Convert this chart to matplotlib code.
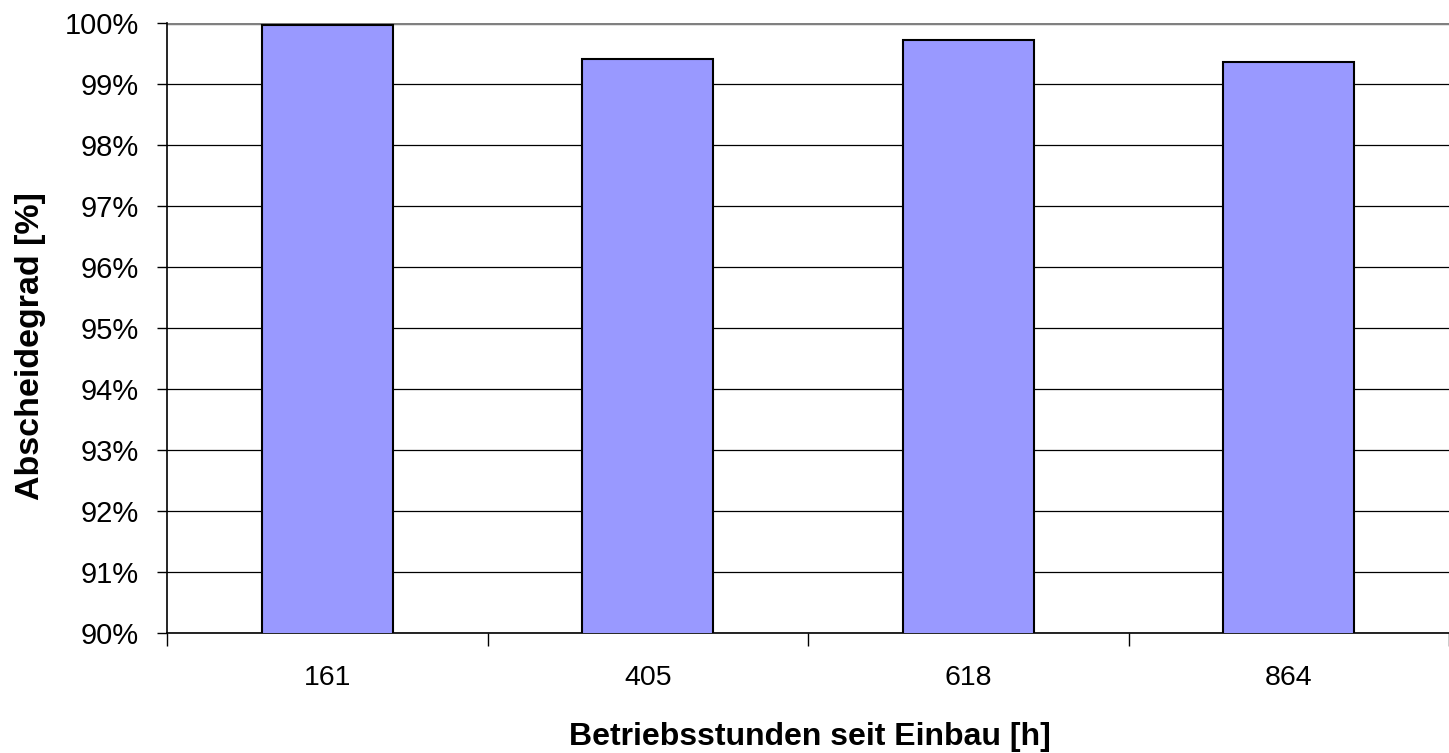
import numpy as np
import matplotlib.pyplot as plt
from matplotlib.ticker import FuncFormatter

plt.rcParams["font.family"] = ["Liberation Sans", "DejaVu Sans"]

stunden = ["161", "405", "618", "864"]
abscheidegrad = [99.97, 99.41, 99.72, 99.36]


def main():
    fig = plt.figure(figsize=(14.49, 7.53), dpi=100)
    ax = fig.add_axes([167 / 1449, 1 - 633 / 753, 1 - 167 / 1449, (633 - 23) / 753])

    x = np.arange(len(stunden))
    ax.bar(x, abscheidegrad, width=0.41, bottom=0, color="#9999FF",
           edgecolor="black", linewidth=1.5, zorder=3)

    ax.set_ylim(90, 100)
    ax.set_xlim(-0.5, len(stunden) - 0.5)
    ax.set_yticks(np.arange(90, 101, 1))
    ax.yaxis.set_major_formatter(FuncFormatter(lambda v, p: f"{v:.0f}%"))
    ax.grid(axis="y", color="black", linewidth=0.9, zorder=0)

    # Ticks an den Kategoriegrenzen, Beschriftung in der Mitte
    ax.set_xticks(np.arange(-0.5, len(stunden), 1))
    ax.set_xticklabels([])
    ax.set_xticks(x, minor=True)
    ax.set_xticklabels(stunden, minor=True)
    ax.tick_params(axis="x", which="major", length=9, width=1, direction="out")
    ax.tick_params(axis="x", which="minor", length=0, pad=23, labelsize=20.5)
    ax.tick_params(axis="y", length=7, width=1, direction="out", labelsize=21, pad=13)

    for s in ["top", "right"]:
        ax.spines[s].set_visible(False)
    ax.spines["left"].set_linewidth(1.2)
    ax.spines["bottom"].set_linewidth(1.2)
    ax.axhline(100, color="#808080", linewidth=2.5, zorder=2)

    fig.text(31 / 1449, 1 - 346 / 753, "Abscheidegrad [%]", rotation=90,
             ha="center", va="center", fontsize=24.5, fontweight="bold")
    fig.text(810 / 1449, 1 - 737 / 753, "Betriebsstunden seit Einbau [h]",
             ha="center", va="center", fontsize=23, fontweight="bold")

    fig.savefig("out.png", dpi=100)


if __name__ == '__main__':
    main()
